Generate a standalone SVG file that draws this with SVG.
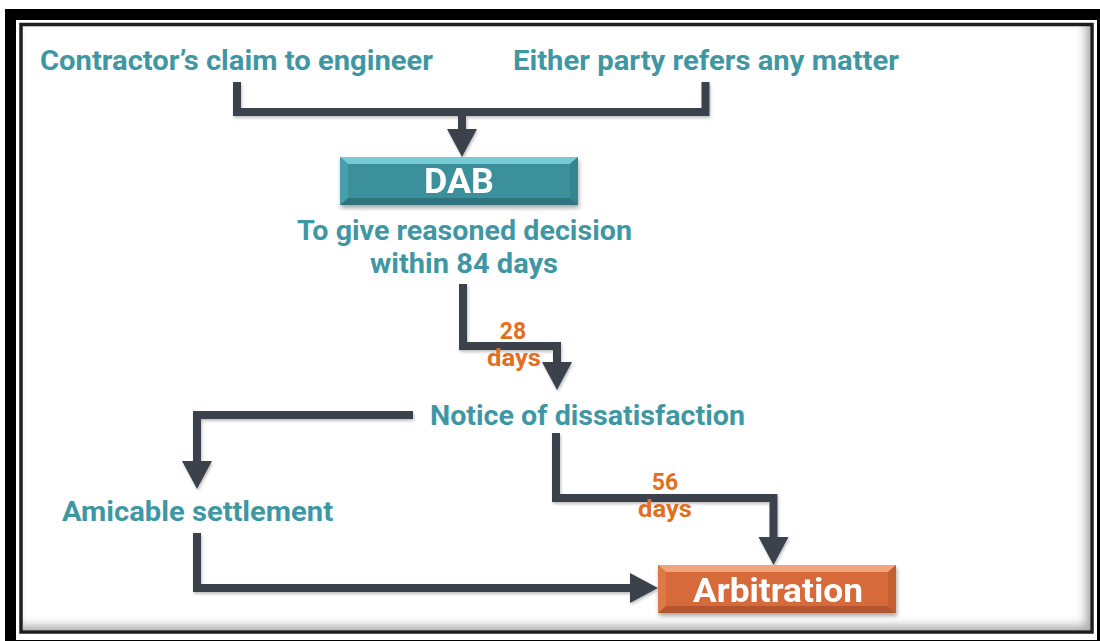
<svg xmlns="http://www.w3.org/2000/svg" width="1100" height="641" viewBox="0 0 1100 641">
  <defs>
    <style>
      .lbl { font-family: Roboto, "Open Sans", "Liberation Sans", sans-serif; font-weight: 700; fill: #3F97A4; font-size: 28px; }
      .days { font-family: Roboto, "Open Sans", "Liberation Sans", sans-serif; font-weight: 700; fill: #E36F1E; font-size: 23px; text-anchor: middle; }
      .boxtxt { font-family: Roboto, "Open Sans", "Liberation Sans", sans-serif; font-weight: 700; fill: #FFFFFF; text-anchor: middle; }
      .conn { fill: none; stroke: #3B434B; stroke-width: 8; stroke-linejoin: miter; }
    </style>
    <marker id="head" markerUnits="userSpaceOnUse" markerWidth="30" markerHeight="32" refX="0" refY="15" orient="auto" viewBox="0 0 30 30">
      <path d="M0,0 L28,15 L0,30 Z" fill="#3B434B"/>
    </marker>
    <filter id="inset" x="-2%" y="-3%" width="104%" height="106%">
      <feFlood flood-color="#000" flood-opacity="0.6"/>
      <feComposite in2="SourceAlpha" operator="out"/>
      <feGaussianBlur stdDeviation="5"/>
      <feOffset dx="-5" dy="-5"/>
      <feComposite in2="SourceAlpha" operator="in" result="sh"/>
      <feMerge>
        <feMergeNode in="SourceGraphic"/>
        <feMergeNode in="sh"/>
      </feMerge>
    </filter>
    <filter id="drop" x="-10%" y="-30%" width="120%" height="170%">
      <feGaussianBlur in="SourceAlpha" stdDeviation="2"/>
      <feOffset dx="1" dy="3"/>
      <feComponentTransfer><feFuncA type="linear" slope="0.35"/></feComponentTransfer>
      <feMerge><feMergeNode/><feMergeNode in="SourceGraphic"/></feMerge>
    </filter>
    <filter id="lineshade" x="-5%" y="-5%" width="110%" height="115%">
      <feGaussianBlur in="SourceAlpha" stdDeviation="1.5"/>
      <feOffset dx="1" dy="2"/>
      <feComponentTransfer><feFuncA type="linear" slope="0.25"/></feComponentTransfer>
      <feMerge><feMergeNode/><feMergeNode in="SourceGraphic"/></feMerge>
    </filter>
  </defs>

  <!-- page frame -->
  <rect x="0" y="0" width="1100" height="641" fill="#FFFFFF"/>
  <rect x="10.5" y="14.5" width="1092" height="631" fill="none" stroke="#000" stroke-width="11"/>
  <rect x="23" y="26" width="1067" height="604" fill="#FFFFFF" filter="url(#inset)"/>
  <rect x="21" y="24.5" width="1071" height="607.5" fill="none" stroke="#1E1E1E" stroke-width="3.5"/>

  <!-- connectors -->
  <g id="connectors" filter="url(#lineshade)">
    <path class="conn" d="M237,82 V112 H705.5 V82"/>
    <path class="conn" d="M462,108 V129" marker-end="url(#head)"/>
    <path class="conn" d="M463,284 V346 H557 V362" marker-end="url(#head)"/>
    <path class="conn" d="M413,415 H197 V461" marker-end="url(#head)"/>
    <path class="conn" d="M556,433 V498 H773.5 V537" marker-end="url(#head)"/>
    <path class="conn" d="M197,533 V588 H630" marker-end="url(#head)"/>
  </g>

  <!-- sources -->
  <g id="claim">
    <text class="lbl" x="40" y="70" textLength="393" lengthAdjust="spacingAndGlyphs">Contractor’s claim to engineer</text>
  </g>
  <g id="refer">
    <text class="lbl" x="513" y="70" textLength="386" lengthAdjust="spacingAndGlyphs">Either party refers any matter</text>
  </g>

  <!-- DAB box -->
  <g id="dab" filter="url(#drop)">
    <rect x="340" y="157" width="238" height="48" fill="#3B909B"/>
    <polygon points="340,157 578,157 570,164 348,164" fill="#76CBD4"/>
    <polygon points="340,205 578,205 570,198 348,198" fill="#2E737D"/>
    <polygon points="340,157 348,164 348,198 340,205" fill="#45A0AB"/>
    <polygon points="578,157 570,164 570,198 578,205" fill="#358590"/>
    <text class="boxtxt" x="459" y="193" font-size="35" textLength="70" lengthAdjust="spacingAndGlyphs">DAB</text>
  </g>

  <g id="decision">
    <text class="lbl" x="297" y="240" textLength="335" lengthAdjust="spacingAndGlyphs">To give reasoned decision</text>
    <text class="lbl" x="370" y="273" textLength="188" lengthAdjust="spacingAndGlyphs">within 84 days</text>
  </g>

  <g id="period28">
    <text class="days" x="513" y="339">28</text>
    <text class="days" x="514" y="366" textLength="54" lengthAdjust="spacingAndGlyphs">days</text>
  </g>

  <g id="notice">
    <text class="lbl" x="430" y="425" textLength="315" lengthAdjust="spacingAndGlyphs">Notice of dissatisfaction</text>
  </g>

  <g id="amicable">
    <text class="lbl" x="62" y="521" textLength="271" lengthAdjust="spacingAndGlyphs">Amicable settlement</text>
  </g>

  <g id="period56">
    <text class="days" x="665" y="490">56</text>
    <text class="days" x="665" y="517" textLength="54" lengthAdjust="spacingAndGlyphs">days</text>
  </g>

  <!-- Arbitration box -->
  <g id="arbitration" filter="url(#drop)">
    <rect x="658" y="565" width="238" height="48" fill="#D66A3B"/>
    <polygon points="658,565 896,565 888,572 666,572" fill="#F2A47C"/>
    <polygon points="658,613 896,613 888,606 666,606" fill="#B3552D"/>
    <polygon points="658,565 666,572 666,606 658,613" fill="#DF7849"/>
    <polygon points="896,565 888,572 888,606 896,613" fill="#C45F33"/>
    <text class="boxtxt" x="778" y="602" font-size="34" textLength="170" lengthAdjust="spacingAndGlyphs">Arbitration</text>
  </g>
</svg>
